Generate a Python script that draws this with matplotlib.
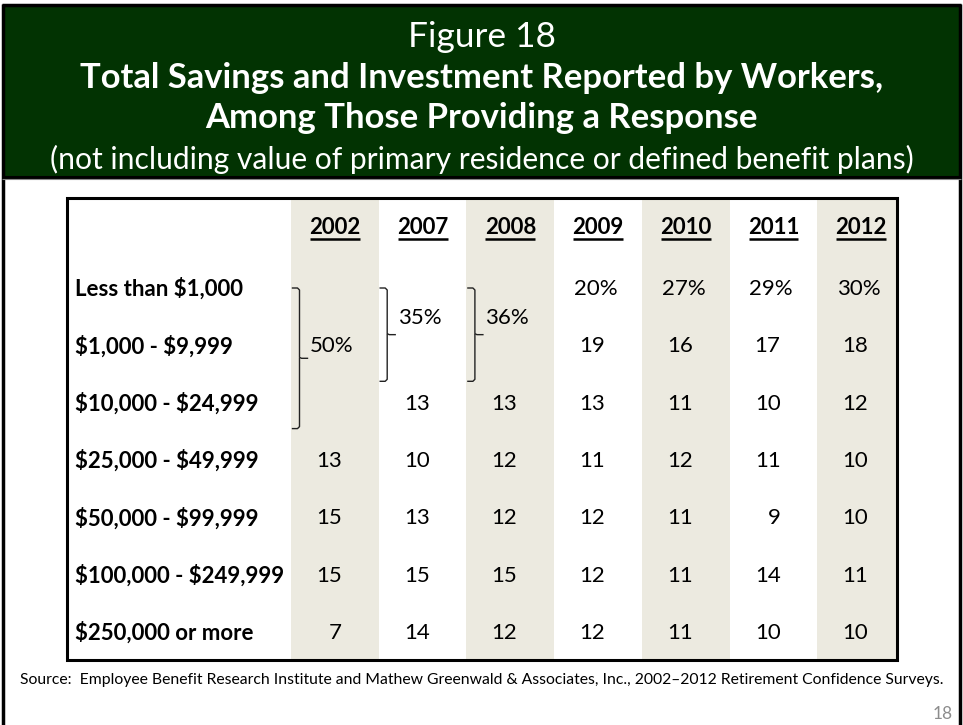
import matplotlib
matplotlib.use("Agg")
import matplotlib.pyplot as plt
from matplotlib.font_manager import FontProperties
from matplotlib.textpath import TextPath
from matplotlib.patches import Rectangle

plt.rcParams["text.parse_math"] = False

# ---------------- data ----------------
years = ["2002", "2007", "2008", "2009", "2010", "2011", "2012"]
categories = [
    "Less than $1,000",
    "$1,000 - $9,999",
    "$10,000 - $24,999",
    "$25,000 - $49,999",
    "$50,000 - $99,999",
    "$100,000 - $249,999",
    "$250,000 or more",
]
# None = covered by a combined (bracketed) figure
values = {
    "2002": [None, None, None, 13, 15, 15, 7],
    "2007": [None, None, 13, 10, 13, 15, 14],
    "2008": [None, None, 13, 12, 12, 15, 12],
    "2009": [20, 19, 13, 11, 12, 12, 12],
    "2010": [27, 16, 11, 12, 11, 11, 11],
    "2011": [29, 17, 10, 11, 9, 14, 10],
    "2012": [30, 18, 12, 10, 10, 11, 10],
}
# combined figures: (year, first row, last row, value)
combined = [
    ("2002", 0, 2, 50),
    ("2007", 0, 1, 35),
    ("2008", 0, 1, 36),
]
shaded_years = ["2002", "2008", "2010", "2012"]

fig_no = "Figure 18"
title_lines = ["Total Savings and Investment Reported by Workers,",
               "Among Those Providing a Response"]
subtitle = "(not including value of primary residence or defined benefit plans)"
source = ("Source:  Employee Benefit Research Institute and Mathew Greenwald & "
          "Associates, Inc., 2002\u20132012 Retirement Confidence Surveys.")
page_no = "18"

# ---------------- layout ----------------
W, H = 963, 725
FONT = "Lato"
GREEN = "#023302"
SHADE = "#ECEAE0"

fig = plt.figure(figsize=(W / 100, H / 100), dpi=100)
ax = fig.add_axes([0, 0, 1, 1])
ax.set_xlim(0, W)
ax.set_ylim(H, 0)
ax.axis("off")
fig.patch.set_facecolor("white")


def text_width(s, weight="normal", size_pt=10):
    fp = FontProperties(family=FONT, weight=weight)
    ext = TextPath((0, 0), s, size=100, prop=fp).get_extents()
    return ext.width / 100 * size_pt * 100 / 72


def fit_size(s, width_px, weight="normal"):
    return width_px / text_width(s, weight, 1.0)


# slide frame and header band
ax.add_patch(Rectangle((3, 5), W - 6, 171, facecolor=GREEN, edgecolor="none"))
ax.plot([2.5, 2.5], [4, H], color="black", lw=2.5, solid_capstyle="butt")
ax.plot([W - 3, W - 3], [4, H], color="black", lw=2.5, solid_capstyle="butt")
ax.plot([2, W - 2], [5, 5], color="black", lw=2.5, solid_capstyle="butt")
ax.plot([2, W - 2], [176.5, 176.5], color="black", lw=2.2, solid_capstyle="butt")
ax.plot([2, W - 2], [178.5, 178.5], color="#888888", lw=0.8, solid_capstyle="butt")

title_size = fit_size(title_lines[0], 800, "bold")
ax.text(W / 2, 47, fig_no, family=FONT, fontsize=title_size * 1.02, color="white",
        ha="center", va="baseline")
ax.text(W / 2, 88, title_lines[0], family=FONT, fontsize=title_size, weight="bold",
        color="white", ha="center", va="baseline")
ax.text(W / 2, 128, title_lines[1], family=FONT, fontsize=title_size, weight="bold",
        color="white", ha="center", va="baseline")
sub_size = fit_size(subtitle, 860)
ax.text(W / 2, 169, subtitle, family=FONT, fontsize=sub_size, color="white",
        ha="center", va="baseline")

# table box
tx0, tx1, ty0, ty1 = 67, 897, 198, 660
col_x0 = 335.0
col_step = 87.7
col_w = 88.0
row_y0 = 287.0
row_step = 57.3
col_center = {y: col_x0 + i * col_step for i, y in enumerate(years)}
row_center = [row_y0 + i * row_step for i in range(len(categories))]

for y in shaded_years:
    c = col_center[y]
    left = max(c - col_w / 2, tx0)
    right = min(c + col_w / 2, tx1)
    ax.add_patch(Rectangle((left, ty0), right - left, ty1 - ty0,
                           facecolor=SHADE, edgecolor="none", zorder=1))
ax.add_patch(Rectangle((tx0, ty0), tx1 - tx0, ty1 - ty0, facecolor="none",
                       edgecolor="black", lw=2.2, zorder=5))

cell_size = fit_size(categories[-1], 178, "bold")

# column headers, underlined
for y in years:
    c = col_center[y]
    ax.text(c, 234, y, family=FONT, fontsize=cell_size, weight="bold",
            ha="center", va="baseline", zorder=3)
    w = text_width(y, "bold", cell_size)
    ax.plot([c - w / 2, c + w / 2], [238.5, 238.5], color="black", lw=1.8,
            solid_capstyle="butt", zorder=3)

# row labels
for r, cat in enumerate(categories):
    ax.text(75, row_center[r], cat, family=FONT, fontsize=cell_size, weight="bold",
            ha="left", va="center_baseline", zorder=3)

# cell values
for y in years:
    c = col_center[y]
    for r, v in enumerate(values[y]):
        if v is None:
            continue
        if r == 0:
            ax.text(c - 24, row_center[r], f"{v}%", family=FONT, fontsize=cell_size,
                    ha="left", va="center_baseline", zorder=3)
        else:
            ax.text(c + 7, row_center[r], f"{v}", family=FONT, fontsize=cell_size,
                    ha="right", va="center_baseline", zorder=3)

# bracketed combined figures
bottom_pad = {3: 27, 2: 37}
for y, r0, r1, v in combined:
    c = col_center[y]
    bx = c - 35.5
    top = row_center[r0] + 1
    bot = row_center[r1] + bottom_pad[r1 - r0 + 1]
    mid = (top + bot) / 2
    kw = dict(color="#222222", lw=1.0, zorder=3, solid_joinstyle="round")
    ax.plot([bx - 7, bx - 2, bx, bx, bx + 2, bx + 8], [top, top, top + 2, mid - 1, mid, mid], **kw)
    ax.plot([bx, bx, bx - 2, bx - 7], [mid, bot - 2, bot, bot], **kw)
    ty = (row_center[r0] + row_center[r1]) / 2
    ax.text(c - 25, ty, f"{v}%", family=FONT, fontsize=cell_size,
            ha="left", va="center_baseline", zorder=3)

# source line and page number
src_size = fit_size(source, 922)
ax.text(W / 2, 684, source, family=FONT, fontsize=src_size, ha="center",
        va="baseline", color="black")
ax.text(953, 719, page_no, family=FONT, fontsize=src_size * 1.1, ha="right",
        va="baseline", color="#8C8C8C")

fig.savefig("out.png", dpi=100, facecolor="white")
